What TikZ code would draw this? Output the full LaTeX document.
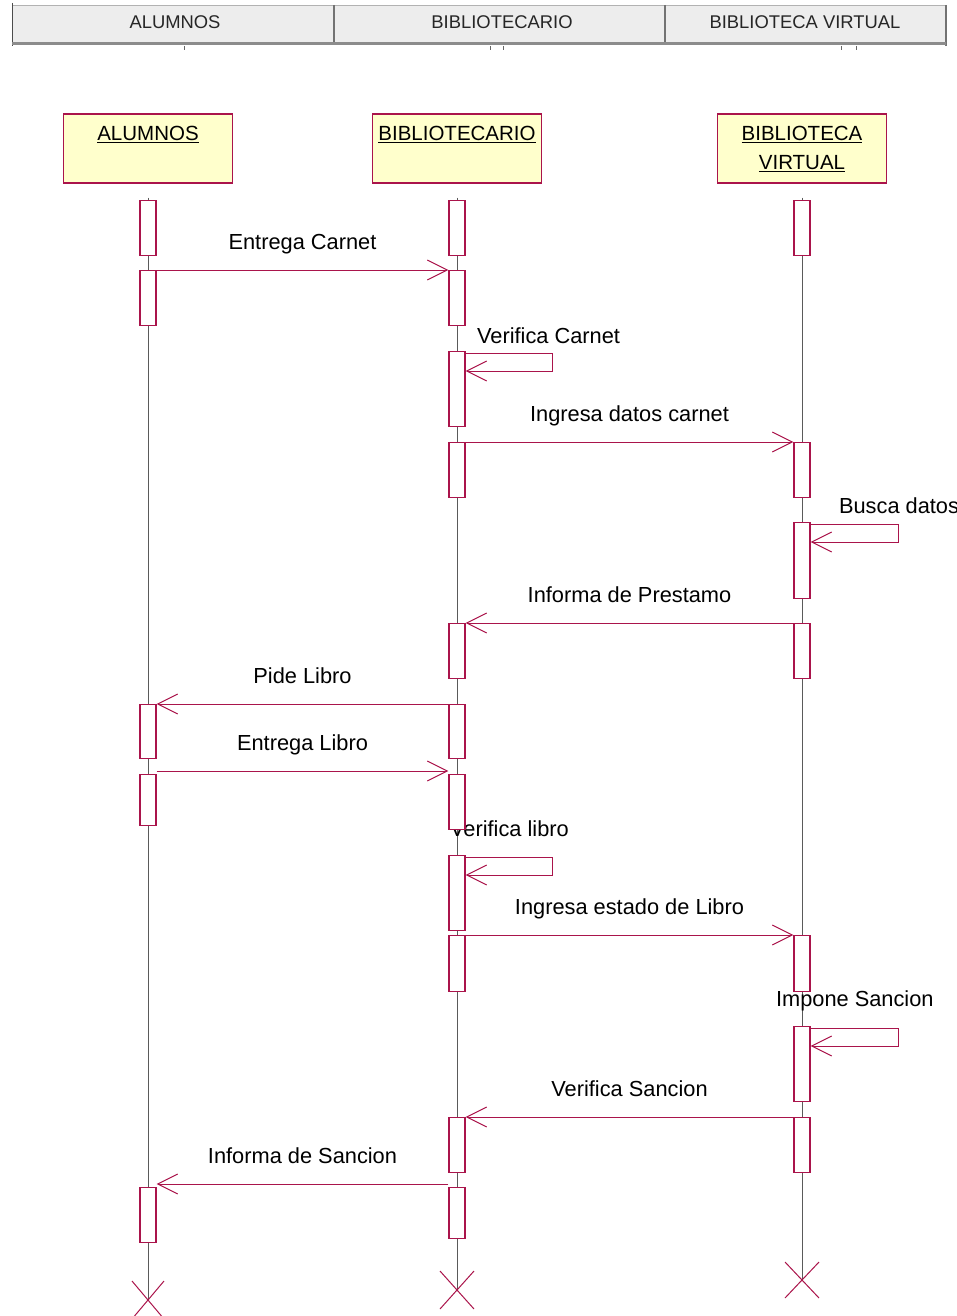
\documentclass[tikz,border=0pt]{standalone}
\usepackage{fontspec}
\setmainfont{Liberation Sans}
\usetikzlibrary{arrows.meta, positioning, calc}

\pgfdeclarelayer{back}
\pgfsetlayers{back,main}

\definecolor{rosered}{RGB}{170,20,75}
\definecolor{paleyellow}{RGB}{255,255,204}
\definecolor{linegray}{RGB}{90,90,90}

\tikzset{
  objbox/.style={draw=rosered, fill=paleyellow, line width=1.1pt, minimum width=169pt, minimum height=69pt, inner sep=0pt},
  objtext/.style={font=\fontsize{20.5}{29}\selectfont, align=center, inner sep=0pt},
  act/.style={draw=rosered, fill=white, line width=1.1pt, minimum width=16pt, inner sep=0pt, anchor=north},
  lifeline/.style={draw=linegray, line width=0.7pt},
  msg/.style={draw=rosered, line width=1pt, -{Straight Barb[length=20pt, width=20pt]}},
  lbl/.style={font=\fontsize{21.8}{26}\selectfont, inner sep=0pt, anchor=base, yshift=21pt},
  selflbl/.style={font=\fontsize{21.8}{26}\selectfont, inner sep=0pt, anchor=base west},
  endmark/.style={draw=rosered, line width=1pt},
  headtext/.style={font=\fontsize{18.4}{22}\selectfont, text=black!85, inner sep=0pt}
}

\begin{document}
\begin{tikzpicture}[x=1pt, y=-1pt]
\useasboundingbox (0,0) rectangle (957,1316);

% header
\fill[black!7] (12,5) rectangle (946,43);
\draw[black!30] (12,5) -- (946,5);
\draw[black!55, line width=1.5pt] (334,5) -- (334,43);
\draw[black!55, line width=1.5pt] (665,5) -- (665,43);
\draw[black!55, line width=1.5pt] (946,5) -- (946,46);
\draw[black!70, line width=1pt] (12,3) -- (12,46);
\draw[black!45, line width=3pt] (12,44) -- (946,44);
\draw[black!60] (184,46) -- (184,50);
\draw[black!60] (490,46) -- (490,50);
\draw[black!60] (503,46) -- (503,50);
\draw[black!60] (841,46) -- (841,50);
\draw[black!60] (856,46) -- (856,50);
\node[headtext] (hdalu) at (175,22) {ALUMNOS};
\node[headtext] (hdbib) at (502,22) {BIBLIOTECARIO};
\node[headtext] (hdbv) at (805,22) {BIBLIOTECA VIRTUAL};

% objects
\node[objbox] (alu) at (148,148.5) {};
\node[objbox] (bib) at (457,148.5) {};
\node[objbox] (bv) at (802,148.5) {};
\node[objtext, below=13pt of alu.north] (alutxt) {\underline{ALUMNOS}};
\node[objtext, below=13pt of bib.north] (bibtxt) {\underline{BIBLIOTECARIO}};
\node[objtext, below=12.5pt of bv.north] (bvtxt) {\underline{BIBLIOTECA}\\\underline{VIRTUAL}};

\coordinate (aluend) at (148,1300);
\coordinate (bibend) at (457,1290);
\coordinate (bvend) at (802,1280);

% activations
\node[act, minimum height=55pt] (a1) at (148,200) {};
\node[act, minimum height=55pt] (a2) at (148,270) {};
\node[act, minimum height=54pt] (a3) at (148,704) {};
\node[act, minimum height=51pt] (a4) at (148,774) {};
\node[act, minimum height=55pt] (a5) at (148,1187) {};

\node[act, minimum height=55pt] (b1) at (457,200) {};
\node[act, minimum height=55pt] (b2) at (457,270) {};
\node[act, minimum height=75pt] (b3) at (457,351) {};
\node[act, minimum height=55pt] (b4) at (457,442) {};
\node[act, minimum height=55pt] (b5) at (457,623) {};
\node[act, minimum height=54pt] (b6) at (457,704) {};
\node[act, minimum height=55pt] (b7) at (457,774) {};
\node[act, minimum height=75pt] (b8) at (457,855) {};
\node[act, minimum height=56pt] (b9) at (457,935) {};
\node[act, minimum height=55pt] (b10) at (457,1117) {};
\node[act, minimum height=51pt] (b11) at (457,1187) {};

\node[act, minimum height=55pt] (v1) at (802,200) {};
\node[act, minimum height=55pt] (v2) at (802,442) {};
\node[act, minimum height=76pt] (v3) at (802,522) {};
\node[act, minimum height=55pt] (v4) at (802,623) {};
\node[act, minimum height=56pt] (v5) at (802,935) {};
\node[act, minimum height=75pt] (v6) at (802,1026) {};
\node[act, minimum height=55pt] (v7) at (802,1117) {};

\begin{pgfonlayer}{back}
\draw[lifeline] ($(alu.south)+(0,14)$) -- (aluend);
\draw[lifeline] ($(bib.south)+(0,14)$) -- (bibend);
\draw[lifeline] ($(bv.south)+(0,14)$) -- (bvend);

% messages
\draw[msg] (a2.north east) -- node[lbl] {Entrega Carnet} (b2.north west);
\draw[msg] ($(b3.north east)+(0,2)$) -- node[selflbl, pos=0, xshift=11pt, yshift=10pt] {Verifica Carnet} ++(87,0) -- ++(0,18) -- ($(b3.north east)+(0,20)$);
\draw[msg] (b4.north east) -- node[lbl] {Ingresa datos carnet} (v2.north west);
\draw[msg] ($(v3.north east)+(0,2)$) -- node[selflbl, pos=0, xshift=28pt, yshift=11pt] {Busca datos} ++(88,0) -- ++(0,18) -- ($(v3.north east)+(0,20)$);
\draw[msg] (v4.north west) -- node[lbl] {Informa de Prestamo} (b5.north east);
\draw[msg] (b6.north west) -- node[lbl] {Pide Libro} (a3.north east);
\draw[msg] ([yshift=3pt]a4.north east) -- node[lbl] {Entrega Libro} ([yshift=3pt]b7.north west);
\draw[msg] ($(b8.north east)+(0,2)$) -- node[selflbl, pos=0, xshift=-16pt, yshift=21pt] {Verifica libro} ++(87,0) -- ++(0,18) -- ($(b8.north east)+(0,20)$);
\draw[msg] (b9.north east) -- node[lbl] {Ingresa estado de Libro} (v5.north west);
\draw[msg] ($(v6.north east)+(0,2)$) -- node[selflbl, pos=0, xshift=-35pt, yshift=22pt] {Impone Sancion} ++(88,0) -- ++(0,18) -- ($(v6.north east)+(0,20)$);
\draw[msg] (v7.north west) -- node[lbl] {Verifica Sancion} (b10.north east);
\draw[msg] ([yshift=3pt]b11.north west) -- node[lbl] {Informa de Sancion} ([yshift=3pt]a5.north east);
\end{pgfonlayer}

% end marks
\draw[endmark] ($(aluend)+(-16,-19)$) -- ($(aluend)+(16,19)$) ($(aluend)+(16,-19)$) -- ($(aluend)+(-16,19)$);
\draw[endmark] ($(bibend)+(-17,-19)$) -- ($(bibend)+(17,19)$) ($(bibend)+(17,-19)$) -- ($(bibend)+(-17,19)$);
\draw[endmark] ($(bvend)+(-17,-18)$) -- ($(bvend)+(17,18)$) ($(bvend)+(17,-18)$) -- ($(bvend)+(-17,18)$);
\end{tikzpicture}
\end{document}
